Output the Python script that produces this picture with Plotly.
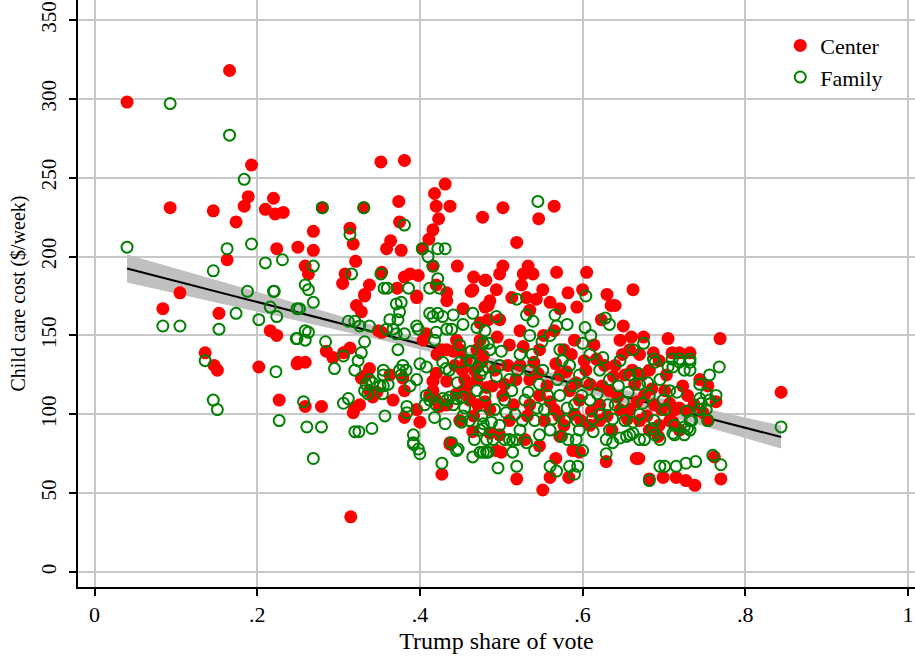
import numpy as np
import plotly.graph_objects as go

# ---- Data (Trump share, $/week) ----
center_pts = [
    (.040,298),(.166,318),(.193,258),(.189,238),(.184,232),(.220,237),(.210,230),(.222,227),(.232,228),(.093,231),
    (.146,229),(.174,222),(.224,205),(.250,206),(.163,198),
    (.105,177),(.084,167),(.153,164),(.216,153),(.224,150),(.136,139),(.147,131),(.151,128),(.202,130),(.249,132),(.227,109),
    (.352,260),(.381,261),(.431,246),(.418,240),(.280,231),(.331,231),(.374,235),(.420,232),(.437,232),(.477,225),
    (.423,224),(.375,222),(.269,216),(.314,218),(.416,217),(.411,211),(.269,204),(.318,208),(.364,210),(.359,205),
    (.377,204),(.403,205),(.321,197),(.259,194),(.263,189),(.308,189),(.305,183),(.353,190),(.338,182),(.332,176),
    (.372,180),(.381,187),(.388,189),(.398,188),(.416,194),(.446,194),(.420,182),(.466,187),(.481,185),(.465,179),
    (.396,175),(.433,177),
    (.332,175),(.322,169),(.328,165),(.396,174),(.433,172),(.453,167),(.463,178),(.480,168),(.484,160),(.474,158),
    (.349,153),(.353,152),(.404,147),(.408,151),(.427,141),(.441,140),(.449,141),(.457,134),(.470,141),(.285,140),
    (.293,136),(.314,142),(.306,139),(.250,133),(.259,133),(.338,129),(.334,125),(.328,123),(.338,115),(.347,114),
    (.342,111),(.363,125),(.379,123),(.381,115),(.367,109),(.259,105),(.279,105),(.320,104),(.326,106),(.318,101),
    (.381,98),(.400,95),(.396,103),(.437,82),(.465,89),(.486,88),
    (.420,126),(.416,121),(.433,121),(.416,115),(.420,109),(.424,105),(.433,106),(.445,113),(.453,115),(.461,109),
    (.471,106),(.480,108),(.482,117),(.470,122),(.476,133),
    (.315,35),(.427,62),(.437,81),
    (.502,231),(.565,232),(.546,224),(.519,209),(.502,194),(.498,189),(.533,194),(.527,189),(.539,189),(.568,190),
    (.605,190),(.662,179),(.480,185),(.494,179),(.525,182),(.551,179),(.582,177),(.600,179),(.630,176),(.513,174),
    (.531,174),(.543,173),(.560,171),(.572,167),(.593,168),(.635,169),(.640,169),(.484,169),(.623,160),(.650,156),
    (.660,149),(.675,149),(.705,148),(.769,148),(.687,139),(.710,139),(.719,139),(.732,139),
    (.844,114),(.744,122),(.754,118),(.764,108),(.754,96),(.729,102),(.719,104),(.707,107),(.729,112),(.693,86),
    (.669,72),(.762,73),(.770,59),(.682,59),(.699,60),(.715,60),(.727,58),(.738,55),
    (.519,59),(.551,52),(.567,72),(.560,60),(.583,60),(.629,70),(.666,72),(.494,77),(.500,76),(.572,86),(.588,77),(.596,76),
    (.421,138),(.433,141),(.443,131),(.455,122),(.412,112),(.431,106),(.449,96),(.461,110),(.467,128),(.474,147),
    (.486,172),(.498,160),(.510,144),(.523,153),(.535,166),(.547,141),(.492,128),(.504,119),(.523,131),(.535,122),
    (.547,112),(.486,103),(.510,96),(.535,106),(.553,96),(.498,87),(.529,84),(.547,80),(.565,153),(.577,141),
    (.590,147),(.602,134),(.614,144),(.627,131),(.572,125),(.584,115),(.596,109),(.609,119),(.621,106),(.633,115),
    (.565,103),(.577,93),(.590,100),(.609,93),(.621,96),(.636,90),(.646,103),(.646,147),(.658,141),(.670,138),
    (.682,128),(.694,134),(.652,125),(.664,119),(.676,112),(.688,106),(.701,115),(.713,103),(.658,103),(.670,96),
    (.682,90),(.694,93),(.707,96),(.719,90),(.640,131),
    (.445,147),(.452,128),(.458,118),(.466,99),(.478,137),(.489,118),(.495,149),(.502,112),(.508,131),(.515,106),
    (.518,122),(.527,143),(.532,99),(.540,133),(.545,126),(.552,150),(.556,118),(.560,108),(.567,132),(.571,99),
    (.580,127),(.586,138),(.592,120),(.598,96),(.604,128),(.611,102),(.617,135),(.624,118),(.630,99),(.638,124),
    (.643,111),(.649,138),(.655,97),(.661,128),(.667,108),(.673,125),(.679,99),(.685,116),(.697,103),(.703,125),
    (.711,95),(.723,118),(.737,106),(.748,101),
]

family_pts = [
    (.093,297),(.166,277),(.184,249),(.040,206),(.163,205),(.193,208),(.210,196),(.231,198),(.146,191),
    (.084,156),(.105,156),(.174,164),(.153,154),(.188,178),(.220,178),(.221,178),(.216,168),(.224,162),(.202,160),
    (.249,148),(.249,167),(.136,134),(.223,127),(.146,109),(.151,103),(.227,96),
    (.280,231),(.331,231),(.381,220),(.314,214),(.403,205),(.422,205),(.431,205),(.410,200),(.269,194),(.316,189),
    (.259,182),(.263,179),(.352,189),(.356,180),(.360,180),(.386,180),(.416,194),(.422,186),(.412,180),(.424,180),
    (.252,167),(.269,171),(.259,153),(.263,152),(.248,148),(.259,147),(.284,146),(.312,159),(.320,159),(.326,156),
    (.338,156),(.332,146),(.328,139),(.306,137),(.324,134),(.320,128),(.295,129),(.355,128),(.373,141),(.359,154),
    (.367,154),(.371,151),(.363,160),(.373,160),(.375,165),(.371,170),(.377,171),(.381,151),(.396,156),(.398,154),
    (.412,164),(.416,162),(.422,164),(.428,162),(.441,163),(.418,147),(.420,152),(.433,154),(.439,154),(.453,157),
    (.465,164),(.470,155),(.480,153),(.478,145),(.484,145),(.400,132),(.408,130),(.379,131),(.375,128),(.383,128),
    (.428,133),(.432,129),(.436,128),(.449,133),(.463,134),(.471,130),(.477,128),(.483,130),(.355,125),(.338,122),
    (.334,119),(.342,120),(.351,118),(.332,115),(.355,118),(.361,119),(.377,125),(.354,113),(.388,118),(.396,122),
    (.312,110),(.306,107),(.257,108),(.336,113),(.408,112),(.412,109),(.406,106),(.420,106),(.428,110),(.433,109),
    (.437,111),(.445,110),(.453,111),(.441,106),(.384,105),(.384,101),(.357,99),(.418,98),(.431,94),(.453,99),
    (.451,95),(.476,99),(.478,94),(.478,91),(.261,92),(.279,92),(.320,89),(.325,89),(.341,91),(.392,87),
    (.392,82),(.398,78),(.439,82),(.447,78),(.467,84),(.482,84),
    (.269,72),(.427,69),(.392,81),(.400,75),(.445,77),(.465,73),(.474,76),(.482,76),
    (.545,235),(.519,173),(.604,175),(.494,162),(.531,163),(.539,159),(.566,163),(.581,157),(.568,156),(.603,155),
    (.628,161),(.633,157),
    (.675,145),(.662,141),(.687,135),(.710,135),(.719,135),(.732,135),
    (.768,130),(.844,92),(.725,128),(.711,130),(.705,130),(.719,133),(.732,133),(.689,133),(.744,110),(.752,113),
    (.764,112),(.746,107),(.752,103),(.754,96),(.734,96),(.725,92),(.729,91),(.711,88),(.725,87),(.689,87),(.670,84),
    (.695,67),(.701,67),(.715,67),(.727,69),(.739,70),(.760,74),(.770,68),(.682,58),
    (.496,66),(.519,67),(.560,67),(.568,64),(.584,67),(.590,62),(.594,67),(.629,75),(.490,84),(.504,84),
    (.514,83),(.519,84),(.531,82),(.541,77),(.478,76),(.484,76),(.514,76),(.574,86),(.582,84),(.592,84),
    (.600,77),(.613,89),(.629,84),(.637,82),(.646,85),(.654,86),(.662,88),
    (.449,144),(.461,134),(.474,125),(.486,141),(.498,131),(.510,122),(.523,138),(.535,128),(.547,119),(.480,112),
    (.492,103),(.504,109),(.517,100),(.529,109),(.541,96),(.553,103),(.461,96),(.474,90),(.498,93),(.510,84),
    (.523,90),(.547,87),(.560,90),(.572,141),(.584,131),(.596,125),(.609,138),(.621,128),(.633,122),(.646,134),
    (.658,125),(.670,119),(.682,112),(.695,122),(.707,115),(.572,112),(.590,106),(.609,109),(.621,100),(.640,106),
    (.652,96),(.670,100),(.688,96),(.701,103),(.713,93),(.732,96),(.744,103),(.756,109),(.578,96),(.596,90),
    (.633,90),(.658,87),(.676,84),(.695,84),(.713,87),(.732,90),(.744,119),(.756,125),(.732,128),
    (.535,150),(.550,146),(.560,150),(.600,145),(.610,150),
    (.446,120),(.455,104),(.463,140),(.470,115),(.488,95),(.494,124),(.500,140),(.506,101),(.513,115),(.520,128),
    (.526,96),(.533,114),(.538,138),(.544,104),(.551,128),(.557,112),(.563,97),(.569,122),(.575,134),(.581,104),
    (.587,118),(.593,96),(.599,112),(.605,120),(.612,97),(.618,113),(.625,136),(.631,106),(.637,97),(.644,118),
    (.650,108),(.656,114),(.662,95),(.668,126),(.674,107),(.680,120),(.686,91),(.699,109),(.716,114),(.728,102),
]

x_ticks = [0, .2, .4, .6, .8, 1]
x_tick_labels = ["0", ".2", ".4", ".6", ".8", "1"]
y_ticks = [0, 50, 100, 150, 200, 250, 300, 350]

cx = np.array([p[0] for p in center_pts]); cy = np.array([p[1] for p in center_pts])
fx = np.array([p[0] for p in family_pts]); fy = np.array([p[1] for p in family_pts])

# pooled linear fit with 95% CI
ax = np.concatenate([cx, fx]); ay = np.concatenate([cy, fy])
n = len(ax)
b, a = np.polyfit(ax, ay, 1)
resid = ay - (a + b * ax)
s = np.sqrt(np.sum(resid ** 2) / (n - 2))
xbar = ax.mean(); sxx = np.sum((ax - xbar) ** 2)
xs = np.linspace(ax.min(), ax.max(), 100)
ys = a + b * xs
se = s * np.sqrt(1.0 / n + (xs - xbar) ** 2 / sxx)
lo = ys - 1.96 * se; hi = ys + 1.96 * se

FONT = "Liberation Serif"
fig = go.Figure()
fig.add_trace(go.Scatter(x=np.concatenate([xs, xs[::-1]]), y=np.concatenate([hi, lo[::-1]]),
                         fill="toself", fillcolor="rgb(192,192,192)", line=dict(width=0),
                         mode="lines", showlegend=False, hoverinfo="skip"))
fig.add_trace(go.Scatter(x=xs, y=ys, mode="lines", line=dict(color="black", width=2),
                         showlegend=False))
fig.add_trace(go.Scatter(x=cx, y=cy, mode="markers", name="Center",
                         marker=dict(symbol="circle", size=13, color="#ff0000", line=dict(width=0))))
fig.add_trace(go.Scatter(x=fx, y=fy, mode="markers", name="Family",
                         marker=dict(symbol="circle-open", size=11, color="#008000", line=dict(width=2, color="#008000"))))

fig.update_layout(
    width=915, height=658,
    margin=dict(l=78, r=0, t=0, b=71),
    paper_bgcolor="white", plot_bgcolor="white",
    font=dict(family=FONT, color="black", size=19),
    legend=dict(x=0.839, y=0.958, xanchor="left", yanchor="top", bgcolor="rgba(0,0,0,0)",
                font=dict(family=FONT, size=22), itemsizing="trace", tracegroupgap=0),
    xaxis=dict(range=[-0.0203, 1.0086], tickvals=x_ticks, ticktext=x_tick_labels, automargin=False,
               showgrid=True, gridcolor="#c8c8c8", gridwidth=2, zeroline=False,
               showline=True, linecolor="black", linewidth=2, ticks="outside", ticklen=7,
               tickcolor="black", tickwidth=1.5, tickfont=dict(family=FONT, size=22),
               title=dict(text="Trump share of vote", font=dict(family=FONT, size=24), standoff=6)),
    yaxis=dict(range=[-9.5, 362.7], tickvals=y_ticks, tickangle=-90, automargin=False,
               showgrid=True, gridcolor="#c8c8c8", gridwidth=2, zeroline=False,
               showline=True, linecolor="black", linewidth=2, ticks="outside", ticklen=7,
               tickcolor="black", tickwidth=1.5, tickfont=dict(family=FONT, size=21),
               ticklabelstandoff=5,
               title=dict(text="Child care cost ($/week)", font=dict(family=FONT, size=20), standoff=6)),
)
fig.write_html("out.html", config={"displayModeBar": False},
               post_script="document.body.style.margin='0';document.body.style.overflow='hidden';")
